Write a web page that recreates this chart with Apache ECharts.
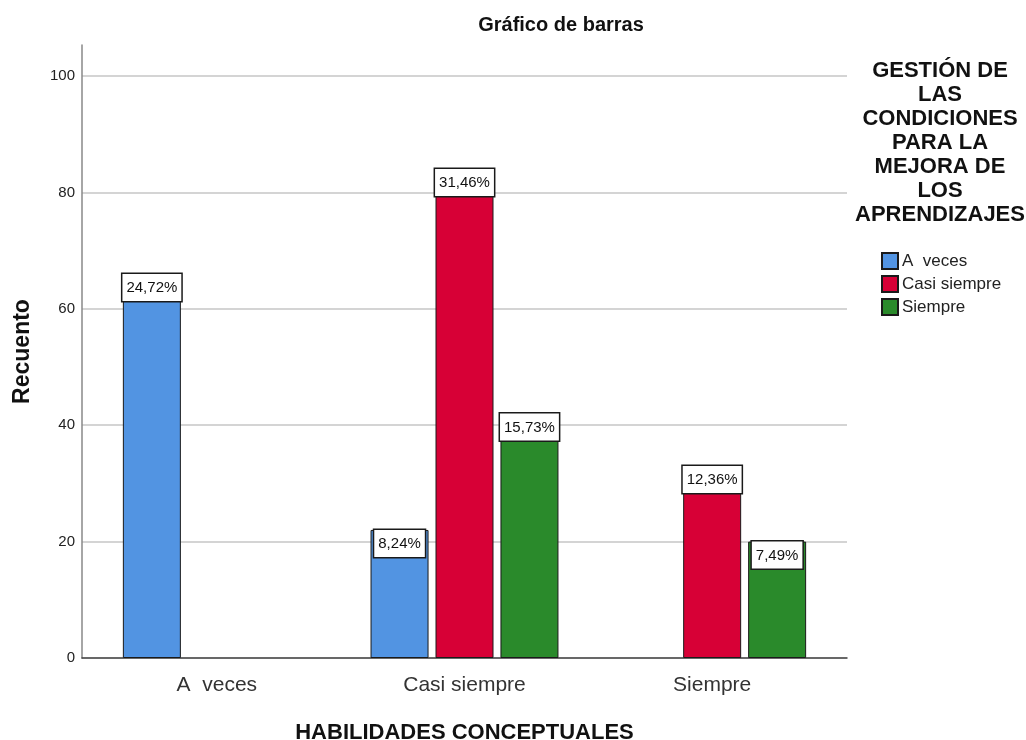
<!DOCTYPE html>
<html>
<head>
<meta charset="utf-8">
<script src="https://cdn.jsdelivr.net/npm/echarts@6/dist/echarts.min.js"></script>
<style>
html,body{margin:0;padding:0;background:#fff;}
#chart{width:1026px;height:740px;}
</style>
</head>
<body>
<div id="chart"></div>
<script>
// ---- data ----
var categories = ['A  veces', 'Casi siempre', 'Siempre'];
var seriesNames = ['A  veces', 'Casi siempre', 'Siempre'];
var valuesAVeces = [66, 22, null];
var valuesCasiSiempre = [null, 84, 33];
var valuesSiempre = [null, 42, 20];
var labelsAVeces = ['24,72%', '8,24%', null];
var labelsCasiSiempre = [null, '31,46%', '12,36%'];
var labelsSiempre = [null, '15,73%', '7,49%'];
var yTicks = [0, 20, 40, 60, 80, 100];
var chartTitle = 'Gráfico de barras';
var legendTitle = 'GESTIÓN DE\nLAS\nCONDICIONES\nPARA LA\nMEJORA DE\nLOS\nAPRENDIZAJES';
var xTitle = 'HABILIDADES CONCEPTUALES';
var yTitle = 'Recuento';

var FONT = '"Liberation Sans", Arial, sans-serif';
var colors = ['#5294E2', '#D70036', '#2A8A2B'];
var allValues = [valuesAVeces, valuesCasiSiempre, valuesSiempre];
var allLabels = [labelsAVeces, labelsCasiSiempre, labelsSiempre];

var chart = echarts.init(document.getElementById('chart'), null, {renderer: 'canvas'});

var series = seriesNames.map(function (name, i) {
  return {
    name: name,
    type: 'bar',
    xAxisIndex: 2,
    yAxisIndex: 2,
    barWidth: 58,
    barGap: '12%',
    data: allValues[i].map(function (v) { return v == null ? '-' : v; }),
    itemStyle: {color: colors[i], borderColor: '#1a1a1a', borderWidth: 1},
    label: {
      show: true,
      position: 'insideTop',
      distance: 0,
      formatter: function (p) { return allLabels[i][p.dataIndex] || ''; },
      fontFamily: FONT,
      fontSize: 15,
      color: '#111',
      backgroundColor: '#fff',
      borderColor: '#1a1a1a',
      borderWidth: 1.5,
      padding: [5, 4, 4, 4],
      lineHeight: 18
    },
    emphasis: {disabled: true}
  };
});

var option = {
  animation: false,
  backgroundColor: '#fff',
  grid: [
    {left: 82, top: 76, width: 765, height: 582, outerBoundsMode: 'none', containLabel: false},
    {left: 82, top: 45, width: 765, height: 613, outerBoundsMode: 'none', containLabel: false},
    {left: 93, top: 76, width: 743, height: 582, outerBoundsMode: 'none', containLabel: false}
  ],
  xAxis: [
    {gridIndex: 0, type: 'category', data: categories, boundaryGap: true,
     axisLine: {show: true, lineStyle: {color: '#444', width: 1.5}},
     axisTick: {show: false}, axisLabel: {show: false}, splitLine: {show: false}},
    {gridIndex: 1, type: 'category', data: categories, show: false},
    {gridIndex: 2, type: 'category', data: categories, boundaryGap: true,
     axisLine: {show: false}, axisTick: {show: false}, splitLine: {show: false},
     axisLabel: {show: true, fontFamily: FONT, fontSize: 21, color: '#333', margin: 17},
     name: xTitle, nameLocation: 'middle', nameGap: 64,
     nameTextStyle: {fontFamily: FONT, fontSize: 22, fontWeight: 'bold', color: '#111'}}
  ],
  yAxis: [
    {gridIndex: 0, type: 'value', min: yTicks[0], max: yTicks[yTicks.length - 1], interval: 20,
     axisLine: {show: false}, axisTick: {show: false},
     axisLabel: {fontFamily: FONT, fontSize: 15, color: '#222', margin: 7},
     splitLine: {show: true, lineStyle: {color: '#d4d4d4', width: 2}}},
    {gridIndex: 1, type: 'value', min: 0, max: 105.3,
     axisLine: {show: true, lineStyle: {color: '#888', width: 1.5}},
     axisTick: {show: false}, axisLabel: {show: false}, splitLine: {show: false},
     name: yTitle, nameLocation: 'middle', nameGap: 48,
     nameTextStyle: {fontFamily: FONT, fontSize: 23, fontWeight: 'bold', color: '#111'}},
    {gridIndex: 2, type: 'value', min: 0, max: 100, show: false}
  ],
  legend: {
    data: seriesNames,
    orient: 'vertical',
    left: 876,
    top: 247,
    itemWidth: 16,
    itemHeight: 16,
    itemGap: 5,
    selectedMode: false,
    icon: 'rect',
    textStyle: {fontFamily: FONT, fontSize: 17, color: '#222', padding: [0, 0, 0, -1]}
  },
  graphic: [
    {type: 'text', x: 561, y: 15, z: 10,
     style: {text: chartTitle, font: 'bold 20px ' + FONT, fill: '#111', align: 'center', verticalAlign: 'top'}},
    {type: 'text', x: 940, y: 59, z: 10,
     style: {text: legendTitle, font: 'bold 22px ' + FONT, fill: '#111',
             align: 'center', lineHeight: 24, verticalAlign: 'top'}}
  ],
  series: series
};
chart.setOption(option);
</script>
</body>
</html>
